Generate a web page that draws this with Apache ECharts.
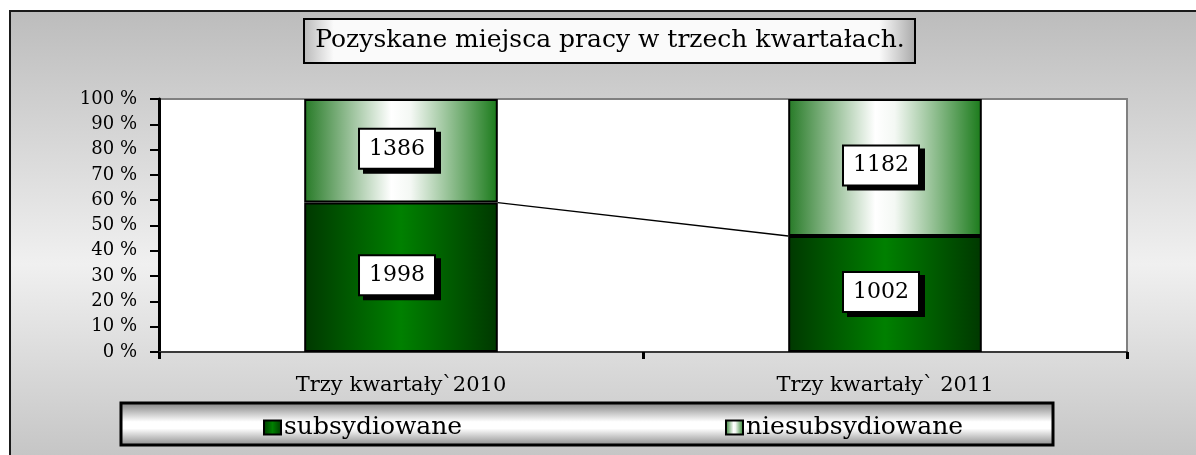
<!DOCTYPE html>
<html>
<head>
<meta charset="utf-8">
<script src="https://cdn.jsdelivr.net/npm/echarts@6/dist/echarts.min.js"></script>
<style>
  html, body { margin: 0; padding: 0; background: #fff; }
  #chart { width: 1196px; height: 455px; }
</style>
</head>
<body>
<div id="chart"></div>
<script>
// dane z wykresu
const categories = ['Trzy kwartały`2010', 'Trzy kwartały` 2011']
const subsydiowane = [1998, 1002]
const niesubsydiowane = [1386, 1182]
const yTicks = [0, 10, 20, 30, 40, 50, 60, 70, 80, 90, 100]

const FONT = '"DejaVu Serif", "Liberation Serif", serif'

// udział procentowy (wykres 100%)
const pctSub = subsydiowane.map((v, i) => v / (v + niesubsydiowane[i]) * 100)
const pctNie = niesubsydiowane.map((v, i) => v / (v + subsydiowane[i]) * 100)

const barWidthRatio = 0.4

const labelBox = {
  show: true,
  position: 'inside',
  fontFamily: FONT,
  fontSize: 22,
  color: '#000',
  lineHeight: 22,
  backgroundColor: '#fff',
  borderColor: '#000',
  borderWidth: 2,
  padding: [8, 9],
  shadowColor: '#000',
  shadowBlur: 0,
  shadowOffsetX: 5,
  shadowOffsetY: 4,
  offset: [-4, -2]
}

const darkGreen = {
  type: 'linear', x: 0, y: 0, x2: 1, y2: 0,
  colorStops: [
    { offset: 0, color: '#003800' },
    { offset: 0.5, color: '#008000' },
    { offset: 1, color: '#003800' }
  ]
}
const lightGreen = {
  type: 'linear', x: 0, y: 0, x2: 1, y2: 0,
  colorStops: [
    { offset: 0, color: '#267a26' },
    { offset: 0.45, color: '#ffffff' },
    { offset: 0.55, color: '#f4f8f4' },
    { offset: 1, color: '#1a7a1a' }
  ]
}

const chart = echarts.init(document.getElementById('chart'))

const option = {
  animation: false,
  graphic: [
    {
      type: 'rect', z: -10, silent: true,
      shape: { x: 10, y: 11, width: 1200, height: 460 },
      style: {
        stroke: '#1a1a1a', lineWidth: 2,
        fill: {
          type: 'linear', x: 0, y: 0, x2: 0, y2: 1,
          colorStops: [
            { offset: 0, color: '#bcbcbc' },
            { offset: 0.55, color: '#f0f0f0' },
            { offset: 1, color: '#c2c2c2' }
          ]
        }
      }
    },
    {
      type: 'rect', z: -5, silent: true,
      shape: { x: 304, y: 19, width: 611, height: 44 },
      style: {
        stroke: '#000', lineWidth: 2,
        fill: {
          type: 'linear', x: 0, y: 0, x2: 1, y2: 0,
          colorStops: [
            { offset: 0, color: '#b8b8b8' },
            { offset: 0.05, color: '#fafafa' },
            { offset: 0.94, color: '#fafafa' },
            { offset: 1, color: '#a8a8a8' }
          ]
        }
      }
    },
    {
      type: 'rect', z: -5, silent: true,
      shape: { x: 121, y: 403, width: 932, height: 42 },
      style: {
        stroke: '#000', lineWidth: 3,
        fill: {
          type: 'linear', x: 0, y: 0, x2: 0, y2: 1,
          colorStops: [
            { offset: 0, color: '#7a7a7a' },
            { offset: 0.45, color: '#ffffff' },
            { offset: 0.6, color: '#ffffff' },
            { offset: 1, color: '#858585' }
          ]
        }
      }
    }
  ],
  title: {
    text: 'Pozyskane miejsca pracy w trzech kwartałach.',
    left: 610,
    top: 28,
    textAlign: 'center',
    padding: 0,
    textStyle: {
      fontFamily: FONT,
      fontSize: 25,
      fontWeight: 'normal',
      color: '#000'
    }
  },
  legend: [
    {
      data: ['subsydiowane'],
      left: 258,
      top: 410,
      itemWidth: 17,
      itemHeight: 14,
      itemGap: 0,
      icon: 'rect',
      textStyle: { fontFamily: FONT, fontSize: 25, color: '#000', padding: [0, 0, 0, -2] }
    },
    {
      data: ['niesubsydiowane'],
      left: 720,
      top: 410,
      itemWidth: 17,
      itemHeight: 14,
      itemGap: 0,
      icon: 'rect',
      textStyle: { fontFamily: FONT, fontSize: 25, color: '#000', padding: [0, 0, 0, -2] }
    }
  ],
  grid: {
    left: 159,
    right: 69,
    top: 99,
    bottom: 103,
    show: true,
    backgroundColor: '#ffffff',
    borderColor: '#808080',
    borderWidth: 2
  },
  xAxis: {
    type: 'category',
    data: categories,
    axisLine: { lineStyle: { color: '#3a3a3a', width: 2 } },
    axisTick: { show: true, length: 7, lineStyle: { color: '#000', width: 3 } },
    axisLabel: { fontFamily: FONT, fontSize: 21, color: '#000', margin: 23 }
  },
  yAxis: {
    type: 'value',
    min: yTicks[0],
    max: yTicks[yTicks.length - 1],
    interval: 10,
    splitLine: { show: false },
    axisLine: { show: true, lineStyle: { color: '#000', width: 3 } },
    axisTick: { show: true, length: 9, lineStyle: { color: '#000', width: 2 } },
    axisLabel: {
      fontFamily: FONT, fontSize: 18, color: '#000', margin: 22,
      formatter: '{value} %'
    }
  },
  series: [
    {
      name: 'subsydiowane',
      type: 'bar',
      stack: 'total',
      barWidth: (barWidthRatio * 100) + '%',
      data: pctSub,
      itemStyle: { color: darkGreen, borderColor: '#000', borderWidth: 2 },
      label: Object.assign({}, labelBox, {
        formatter: (p) => String(subsydiowane[p.dataIndex])
      })
    },
    {
      name: 'niesubsydiowane',
      type: 'bar',
      stack: 'total',
      data: pctNie,
      itemStyle: { color: lightGreen, borderColor: '#000', borderWidth: 2 },
      label: Object.assign({}, labelBox, {
        formatter: (p) => String(niesubsydiowane[p.dataIndex])
      })
    },
    {
      // linia łącząca słupki (series lines)
      type: 'custom',
      silent: true,
      z: 1,
      data: pctSub.map((v, i) => [i, v]),
      renderItem: (params, api) => {
        const i = params.dataIndex
        if (i >= pctSub.length - 1) return null
        const p1 = api.coord([i, pctSub[i]])
        const p2 = api.coord([i + 1, pctSub[i + 1]])
        const half = api.size([1, 0])[0] * barWidthRatio / 2
        return {
          type: 'line',
          shape: { x1: p1[0] + half, y1: p1[1], x2: p2[0] - half, y2: p2[1] },
          style: { stroke: '#000', lineWidth: 1.5 }
        }
      }
    }
  ]
}

chart.setOption(option)
window.addEventListener('resize', () => chart.resize())
</script>
</body>
</html>
